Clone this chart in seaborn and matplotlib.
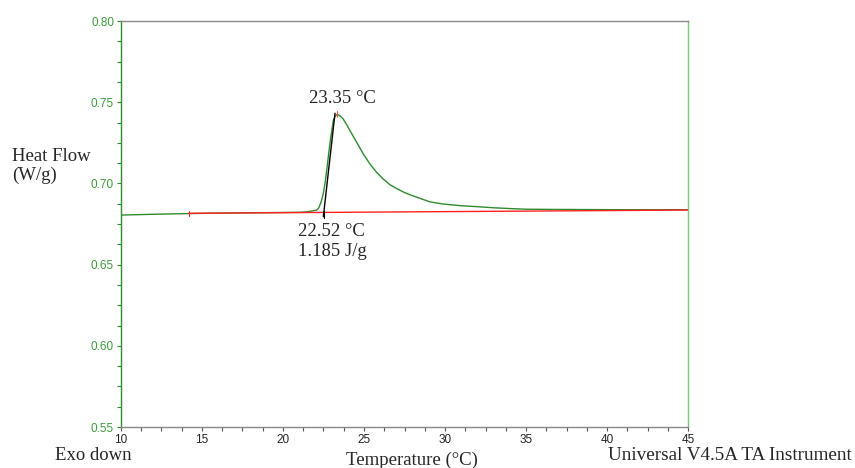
import numpy as np
import pandas as pd
import seaborn as sns
import matplotlib.pyplot as plt
from matplotlib.ticker import MultipleLocator

# DSC heat flow curve
temp = [10.0, 12.0, 14.0, 16.0, 18.0, 20.0, 21.0, 21.5, 22.08, 22.2, 22.28,
        22.38, 22.49, 22.6, 22.7, 22.9, 23.11, 23.25, 23.35, 23.55, 23.72,
        23.93, 24.14, 24.55, 24.96, 25.37, 25.78, 26.19, 26.6, 27.02, 27.43,
        27.84, 28.46, 29.07, 29.90, 30.93, 31.96, 32.98, 34.01, 35.04, 36.5,
        38.33, 41.0, 45.0]
heat_flow = [0.6805, 0.6810, 0.6814, 0.6817, 0.6819, 0.6821, 0.6822, 0.6825,
             0.6836, 0.6848, 0.6867, 0.6895, 0.6939, 0.7005, 0.7083, 0.7249,
             0.7390, 0.7418, 0.7425, 0.7414, 0.7396, 0.7362, 0.7324, 0.7253,
             0.7181, 0.7119, 0.7068, 0.7027, 0.6992, 0.6968, 0.6947, 0.6930,
             0.6908, 0.6886, 0.6873, 0.6863, 0.6857, 0.6850, 0.6845, 0.6841,
             0.6840, 0.6839, 0.6838, 0.6838]

# integration baseline and onset tangent
base_t = [14.2, 45.0]
base_hf = [0.6816, 0.6836]
tangent_t = [22.49, 23.21]
tangent_hf = [0.6795, 0.7432]

peak_label = "23.35 °C"
onset_temp_label = "22.52 °C"
enthalpy_label = "1.185 J/g"

df = pd.DataFrame({"Temperature": temp, "Heat Flow": heat_flow})

sns.set_style("white")
plt.rcParams["font.family"] = ["Liberation Sans", "DejaVu Sans"]

fig = plt.figure(figsize=(8.55, 4.68), dpi=100)
ax = fig.add_axes([0.1415, 0.0876, 0.6632, 0.8675])

green = "#2e8b2e"
sns.lineplot(data=df, x="Temperature", y="Heat Flow", ax=ax, color=green, lw=1.0)
ax.plot(base_t, base_hf, color="#ff2020", lw=1.0)
ax.plot(tangent_t, tangent_hf, color="black", lw=1.0)

# little limit / peak markers
ax.plot([14.2, 14.2], [0.6802, 0.6830], color="#ff2020", lw=0.8)
ax.plot([23.35, 23.35], [0.7412, 0.7445], color="#ff5050", lw=0.8)
ax.plot([22.52, 22.52], [0.6790, 0.6830], color="black", lw=0.8)

ax.set_xlim(10, 45)
ax.set_ylim(0.55, 0.80)
ax.xaxis.set_major_locator(MultipleLocator(5))
ax.xaxis.set_minor_locator(MultipleLocator(1.25))
ax.yaxis.set_major_locator(MultipleLocator(0.05))
ax.yaxis.set_minor_locator(MultipleLocator(0.0125))
ax.yaxis.set_major_formatter(plt.FormatStrFormatter("%.2f"))

ax.tick_params(axis="x", which="both", direction="out", length=3, width=0.8,
               colors="#555555", labelcolor="#222222", labelsize=8.5, pad=2)
ax.tick_params(axis="y", which="both", direction="out", length=3, width=0.8,
               colors=green, labelcolor="#3c9b3c", labelsize=8.5, pad=2)
ax.tick_params(bottom=True, left=True, which="both")

for side, col in [("top", "#888888"), ("bottom", "#888888"),
                  ("left", green), ("right", "#7cc47c")]:
    ax.spines[side].set_visible(True)
    ax.spines[side].set_color(col)
    ax.spines[side].set_linewidth(1.0)

ax.set_xlabel("")
ax.set_ylabel("")

serif = ["Liberation Serif", "DejaVu Serif"]
fs = 13.5
ax.text(23.64, 0.7520, peak_label, ha="center", va="center",
        fontsize=fs, family=serif)
ax.text(20.92, 0.6701, onset_temp_label, ha="left", va="center",
        fontsize=fs, family=serif)
ax.text(20.92, 0.6578, enthalpy_label, ha="left", va="center",
        fontsize=fs, family=serif)

fig.text(12 / 855, 1 - 166 / 468, "Heat Flow\n(W/g)", ha="left", va="center",
         fontsize=fs, family=serif, linespacing=1.2,
         bbox=dict(facecolor="white", edgecolor="none", pad=0.5))
fig.text(55 / 855, 1 - 456 / 468, "Exo down", ha="left", va="center",
         fontsize=fs, family=serif)
fig.text(412 / 855, 1 - 460 / 468, "Temperature (°C)", ha="center", va="center",
         fontsize=fs, family=serif)
fig.text(852 / 855, 1 - 456 / 468, "Universal V4.5A TA Instrument", ha="right",
         va="center", fontsize=13.8, family=serif)

fig.savefig("out.png", dpi=100)
